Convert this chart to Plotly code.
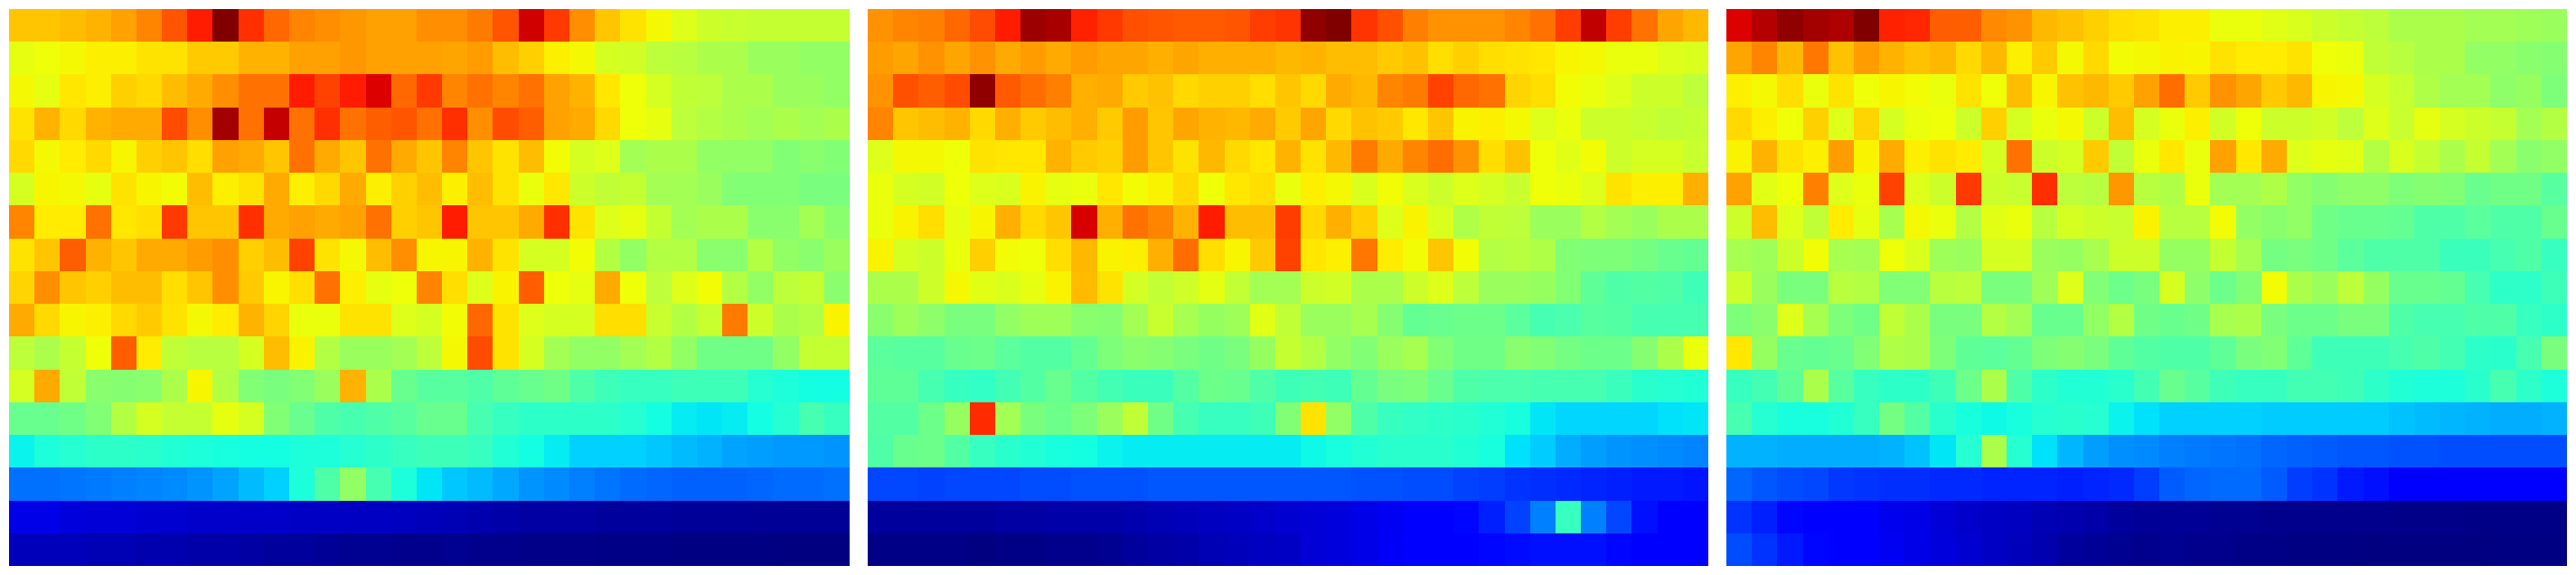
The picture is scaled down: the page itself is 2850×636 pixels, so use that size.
import plotly.graph_objects as go
from plotly.subplots import make_subplots

panel_1 = [
 [700,700,710,720,740,770,820,880,1000,860,800,770,760,750,740,740,760,760,780,820,930,850,760,700,670,640,610,590,585,580,580,580,580],
 [620,630,640,655,655,670,670,695,695,720,720,740,740,750,740,740,740,735,745,710,690,655,640,600,595,570,565,550,550,530,530,520,520],
 [640,620,665,655,690,680,710,730,760,790,790,880,840,880,920,800,850,770,790,770,790,740,720,665,630,600,575,570,550,550,530,530,520],
 [670,720,680,720,730,730,830,760,970,790,940,790,860,790,810,820,790,860,760,830,810,740,730,680,630,620,570,560,550,540,550,540,550],
 [680,640,660,680,645,690,700,675,740,730,700,790,730,700,790,730,700,770,700,670,710,635,600,610,540,550,550,520,520,520,500,510,500],
 [600,645,640,620,670,645,635,710,655,670,730,655,680,730,655,690,710,655,710,670,625,665,590,575,580,540,540,530,500,500,500,490,490],
 [770,660,660,790,665,675,850,700,700,860,730,740,730,740,790,690,700,880,700,700,730,860,670,610,620,580,540,550,550,510,510,540,510],
 [670,700,810,720,700,730,730,745,760,690,710,840,670,640,710,760,645,645,720,670,600,600,635,560,520,560,560,510,510,560,520,510,530],
 [685,760,700,690,710,710,675,700,760,695,645,675,790,655,620,630,770,675,610,650,810,630,620,730,630,570,610,635,560,520,570,580,510],
 [730,680,645,655,680,695,670,640,660,720,685,625,625,670,670,610,600,635,800,670,610,600,600,675,675,585,560,585,780,590,550,560,650],
 [570,550,580,630,810,660,575,565,565,600,710,650,560,530,530,540,570,640,830,670,600,540,520,520,540,560,520,480,480,480,520,580,580],
 [600,730,575,510,505,510,550,645,560,500,490,500,530,720,550,470,450,450,440,460,470,480,440,420,410,410,420,420,420,390,380,370,370],
 [470,470,480,500,560,600,580,580,620,600,500,470,440,430,440,450,470,470,430,410,400,400,400,400,390,370,355,350,355,370,390,430,410],
 [360,380,390,400,400,395,385,380,375,370,370,380,380,390,400,410,420,420,410,385,370,355,330,330,330,320,310,300,285,280,275,275,270],
 [235,235,240,245,250,255,260,270,285,310,330,380,440,520,430,380,350,320,310,290,270,260,250,240,230,225,220,220,220,225,230,230,235],
 [90,90,80,75,75,70,68,65,65,62,62,60,60,58,58,56,50,45,40,35,30,30,30,25,25,25,22,22,22,20,20,20,20],
 [50,50,50,45,45,40,40,35,35,30,25,25,20,15,15,10,10,15,10,10,8,8,8,5,5,5,3,2,2,2,0,0,0],
]

panel_2 = [
 [755,770,775,800,830,880,975,965,875,850,825,820,815,815,820,845,855,985,1000,855,825,775,755,755,755,770,790,845,945,845,790,735,715],
 [745,735,755,735,755,730,745,730,745,735,735,725,735,725,725,725,715,720,710,710,695,705,675,690,675,670,665,645,640,625,625,610,605],
 [755,825,810,830,985,815,795,775,725,730,695,705,680,690,690,675,700,680,730,715,770,780,840,800,790,685,675,635,625,610,590,590,570],
 [770,700,710,720,680,725,695,710,725,695,745,700,735,720,715,730,695,735,680,705,695,665,700,650,655,640,610,625,590,590,585,575,580],
 [610,640,640,630,670,665,665,720,695,690,745,700,670,715,680,665,720,670,715,780,730,770,795,755,675,705,630,615,635,590,600,600,585],
 [625,600,595,630,610,605,650,620,625,665,635,650,680,630,665,675,625,655,640,605,635,605,590,610,600,585,630,625,610,670,655,655,725],
 [625,650,675,620,645,725,680,700,925,725,790,770,720,880,710,710,845,680,725,690,610,650,605,555,575,570,530,530,560,540,530,550,550],
 [650,600,590,625,690,635,630,675,715,650,655,725,795,675,645,695,840,665,655,785,660,635,700,635,560,565,555,500,495,495,485,470,465],
 [550,550,590,640,615,605,620,650,712,670,598,578,592,618,578,540,540,590,595,550,550,590,610,570,530,530,525,500,460,440,445,440,420],
 [510,535,515,490,490,520,535,535,510,505,540,585,545,525,535,615,575,530,530,545,505,465,470,475,475,455,430,435,450,445,430,430,430],
 [455,450,450,470,475,455,445,445,465,495,510,505,490,480,490,525,580,560,520,500,530,545,500,480,480,510,500,485,475,475,505,550,625],
 [460,460,430,410,405,425,445,470,445,425,415,415,445,475,470,440,420,425,420,465,490,495,470,440,435,435,430,430,430,415,395,390,385],
 [445,445,475,525,865,540,490,475,495,530,575,480,430,410,410,420,500,670,520,440,410,405,400,395,385,375,350,335,335,335,335,345,350],
 [440,470,475,445,410,395,385,375,370,360,355,355,355,355,355,355,355,365,375,385,395,395,395,385,375,345,325,295,280,270,265,260,255],
 [195,195,190,195,195,195,200,200,205,205,205,210,210,210,210,210,210,210,210,205,205,200,200,190,185,175,170,165,160,155,150,150,145],
 [25,25,25,25,25,30,30,35,35,35,40,45,50,55,60,65,70,75,80,90,100,115,120,130,155,190,250,410,250,195,140,115,115],
 [5,5,5,5,0,5,5,10,10,15,25,30,35,45,50,55,60,75,80,90,105,115,120,120,130,135,140,140,140,130,125,125,125],
]

panel_3 = [
 [920,955,985,970,960,1000,875,870,810,810,765,755,715,705,690,675,670,655,655,625,625,615,605,590,580,570,550,550,550,540,540,535,530],
 [735,770,715,785,705,745,720,705,715,680,715,655,695,640,680,635,640,650,645,670,660,660,670,630,625,575,565,550,550,520,520,510,505],
 [655,640,675,625,670,630,645,635,625,670,630,710,645,705,715,695,740,795,695,755,735,695,715,645,640,600,585,555,540,540,515,525,495],
 [680,655,630,690,610,685,600,625,630,590,690,600,625,640,590,710,600,625,655,595,630,590,590,595,570,610,585,620,600,590,580,540,560],
 [650,720,670,655,745,650,730,655,670,660,600,790,590,600,695,575,625,665,625,740,665,730,610,620,615,560,605,580,550,580,540,510,520],
 [740,615,630,775,610,625,840,610,590,850,590,585,860,570,565,750,565,555,625,540,540,555,520,505,515,515,495,505,500,470,480,480,450],
 [590,710,610,575,660,620,545,640,625,560,615,625,565,600,590,585,650,565,565,635,520,510,520,480,470,470,465,440,440,455,440,440,470],
 [545,535,590,635,545,540,630,605,535,530,600,600,530,525,545,590,590,525,525,580,545,485,490,480,455,440,440,440,415,415,430,440,410],
 [590,530,490,490,565,560,500,500,565,570,490,490,535,610,500,475,490,600,515,475,500,635,550,530,570,525,470,470,465,430,400,400,420],
 [495,510,610,545,495,480,575,550,490,490,560,540,470,470,520,560,480,470,480,545,550,490,475,475,490,490,440,430,430,440,440,410,400],
 [665,525,470,465,470,500,555,550,495,460,455,465,495,505,490,460,445,440,440,460,490,500,460,420,420,420,430,440,425,400,395,430,490],
 [410,425,460,550,450,410,400,400,420,475,550,440,400,385,385,395,425,470,450,420,410,410,425,425,420,400,385,380,380,395,430,400,380],
 [430,390,375,375,385,410,485,445,395,375,365,375,390,395,390,360,345,330,330,330,330,325,325,325,325,325,315,310,305,300,295,295,300],
 [300,300,295,295,295,295,300,315,350,390,550,390,345,305,280,265,260,250,245,240,235,225,220,215,210,210,205,205,200,200,200,200,200],
 [225,210,200,195,180,175,170,170,165,165,160,160,160,155,160,165,185,215,225,230,230,215,185,175,150,140,125,120,120,120,115,115,110],
 [175,155,130,120,110,110,95,90,75,65,60,55,45,40,35,25,20,20,20,15,15,10,10,10,10,10,8,8,8,5,5,5,5],
 [200,175,150,130,110,110,100,90,80,70,60,50,40,25,20,15,10,15,10,10,5,5,3,2,2,0,0,0,0,0,2,2,2],
]

panels = [panel_1, panel_2, panel_3]
for p in panels:
    assert len(p) == 17 and all(len(r) == 33 for r in p), [len(r) for r in p]

# jet-style colour scale, as position / rgb stops
jet_pos = [0, 0.11, 0.125, 0.34, 0.35, 0.37, 0.63, 0.645, 0.66, 0.89, 0.91, 1]
jet_rgb = ["rgb(0,0,128)", "rgb(0,0,255)", "rgb(0,0,255)", "rgb(0,219,255)", "rgb(0,230,247)",
           "rgb(20,255,226)", "rgb(238,255,8)", "rgb(247,246,0)", "rgb(255,236,0)",
           "rgb(255,19,0)", "rgb(232,0,0)", "rgb(128,0,0)"]
colorscale = [[p, c] for p, c in zip(jet_pos, jet_rgb)]

W, H = 2850, 636
fig = make_subplots(rows=1, cols=3)
for i, p in enumerate(panels):
    fig.add_trace(go.Heatmap(z=p, zmin=0, zmax=1000, colorscale=colorscale, showscale=False,
                             hoverinfo="skip"), row=1, col=i + 1)

edges = [(10, 940), (960, 1890), (1910, 2840)]
for i, (a, b) in enumerate(edges):
    suffix = "" if i == 0 else str(i + 1)
    fig.layout["xaxis" + suffix].update(domain=[a / W, b / W], visible=False)
    fig.layout["yaxis" + suffix].update(domain=[10 / H, 626 / H], visible=False, autorange="reversed")

fig.update_layout(width=W, height=H, margin=dict(l=0, r=0, t=0, b=0),
                  paper_bgcolor="white", plot_bgcolor="white")
fig.write_html("out.html", config={"displayModeBar": False},
               post_script="document.body.style.margin='0';document.body.style.overflow='hidden';")
